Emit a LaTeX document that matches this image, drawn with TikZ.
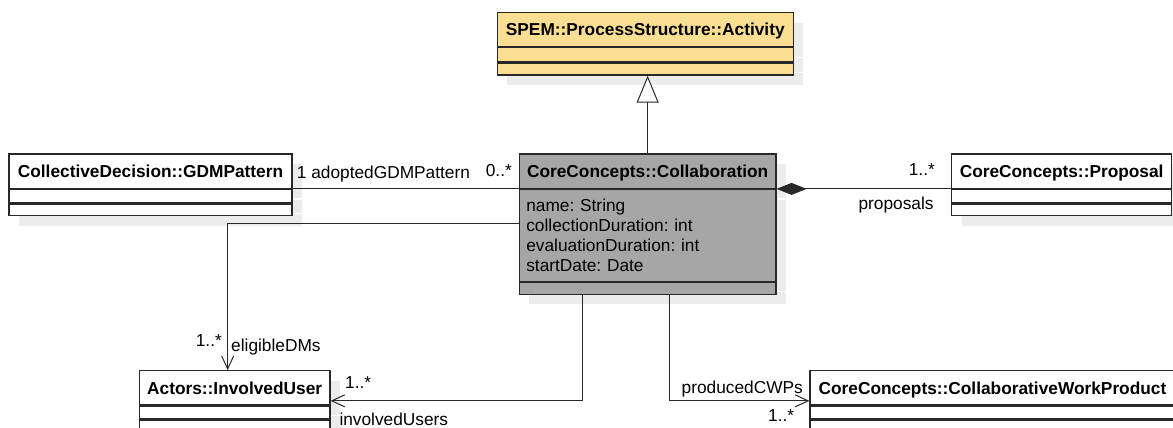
\documentclass[tikz,border=0pt]{standalone}
\usepackage{fontspec}
\setmainfont{Liberation Sans}
\frenchspacing
\usetikzlibrary{arrows.meta,shadows}
\definecolor{spemyellow}{RGB}{250,222,146}
\definecolor{collabgray}{RGB}{166,166,166}
\definecolor{shadowgray}{RGB}{236,236,236}
\definecolor{umlline}{RGB}{40,40,40}

\begin{document}
\begin{tikzpicture}[x=1pt,y=-1pt,
  umlshadow/.style={drop shadow={shadow xshift=10pt,shadow yshift=-10pt,fill=shadowgray,opacity=1}},
  classhead/.style={draw=umlline,line width=1.2pt,fill=white,umlshadow,inner sep=0pt,
    font=\bfseries\fontsize{17.3}{20}\selectfont,text height=12.4pt,text depth=0pt},
  compart/.style={draw=umlline,line width=1.2pt,fill=white,umlshadow,inner sep=0pt,anchor=north},
  lbl/.style={inner sep=0pt,font=\fontsize{17.3}{20}\selectfont,text height=12.4pt,text depth=0pt},
  link/.style={draw=umlline,line width=1pt},
  assoc/.style={link,-{Straight Barb[length=13pt,width=12pt]}},
  gen/.style={link,-{Triangle[open,length=27pt,width=22pt,fill=white]}},
  comp/.style={link,{Diamond[length=30pt,width=12pt]}-}]
\useasboundingbox (0,0) rectangle (1173,428);
\clip (0,0) rectangle (1173,428);

% SPEM::ProcessStructure::Activity
\node[classhead,fill=spemyellow,minimum width=296pt,minimum height=34pt] (spem) at (645.3,29.7) {SPEM::ProcessStructure::Activity};
\node[compart,fill=spemyellow,minimum width=296pt,minimum height=14pt] (spemattr) at (spem.south) {};
\node[compart,fill=spemyellow,minimum width=296pt,minimum height=12pt] (spemops) at (spemattr.south) {};

% CoreConcepts::Collaboration
\node[classhead,fill=collabgray,minimum width=256.7pt,minimum height=34.3pt] (collab) at (647.65,171.15) {CoreConcepts::Collaboration};
\node[compart,fill=collabgray,minimum width=256.7pt,minimum height=91.7pt,text width=242.7pt,inner xsep=7pt,
  align=left,font=\fontsize{17.3}{20}\selectfont] (collabattr) at (collab.south)
  {name: String\\collectionDuration: int\\evaluationDuration: int\\startDate: Date};
\node[compart,fill=collabgray,minimum width=256.7pt,minimum height=12pt] (collabops) at (collabattr.south) {};

% CollectiveDecision::GDMPattern
\node[classhead,minimum width=283pt,minimum height=34.3pt] (gdm) at (150.5,171.15) {CollectiveDecision::GDMPattern};
\node[compart,minimum width=283pt,minimum height=13.4pt] (gdmattr) at (gdm.south) {};
\node[compart,minimum width=283pt,minimum height=11.6pt] (gdmops) at (gdmattr.south) {};

% CoreConcepts::Proposal
\node[classhead,minimum width=219.7pt,minimum height=34.3pt] (proposal) at (1061.65,171.15) {CoreConcepts::Proposal};
\node[compart,minimum width=219.7pt,minimum height=13.4pt] (proposalattr) at (proposal.south) {};
\node[compart,minimum width=219.7pt,minimum height=11.6pt] (proposalops) at (proposalattr.south) {};

% Actors::InvolvedUser
\node[classhead,minimum width=190.7pt,minimum height=34.3pt] (user) at (234.65,387.85) {Actors::InvolvedUser};
\node[compart,minimum width=190.7pt,minimum height=12.7pt] (userattr) at (user.south) {};
\node[compart,minimum width=190.7pt,minimum height=12pt] (userops) at (userattr.south) {};

% CoreConcepts::CollaborativeWorkProduct
\node[classhead,minimum width=365pt,minimum height=34.3pt] (cwp) at (992.5,387.85) {CoreConcepts::CollaborativeWorkProduct};
\node[compart,minimum width=365pt,minimum height=12.7pt] (cwpattr) at (cwp.south) {};
\node[compart,minimum width=365pt,minimum height=12pt] (cwpops) at (cwpattr.south) {};

% connectors
\draw[gen] (collab.north) -- (collab.north |- spemops.south);
\draw[link] (gdm.south east) -- (gdm.south east -| collab.west);
\draw[comp] (collab.south east) -- (collab.south east -| proposal.west);
\draw[assoc] (collabattr.north west) ++(0,35) -| ([xshift=-7pt]user.north);
\draw[assoc] (collabops.south west) ++(64,0) |- ([yshift=-13pt]user.east);
\draw[assoc] (collabops.south west) ++(150.7,0) |- ([yshift=-13pt]cwp.west);

% role names and multiplicities
\node[lbl,anchor=west] (adoptlbl) at (296.7,172) {1 adoptedGDMPattern};
\node[lbl,anchor=east] (adoptmult) at (512,170) {0..*};
\node[lbl,anchor=east] (propmult) at (935,169.3) {1..*};
\node[lbl,anchor=east] (proplbl) at (933.8,203.3) {proposals};
\node[lbl,anchor=east] (dmmult) at (222,340) {1..*};
\node[lbl,anchor=west] (dmlbl) at (231,345) {eligibleDMs};
\node[lbl,anchor=west] (usermult) at (345,382.3) {1..*};
\node[lbl,anchor=west] (userlbl) at (339.3,419.3) {involvedUsers};
\node[lbl,anchor=east] (cwplbl) at (803,387.3) {producedCWPs};
\node[lbl,anchor=east] (cwpmult) at (794.4,415) {1..*};
\end{tikzpicture}
\end{document}
